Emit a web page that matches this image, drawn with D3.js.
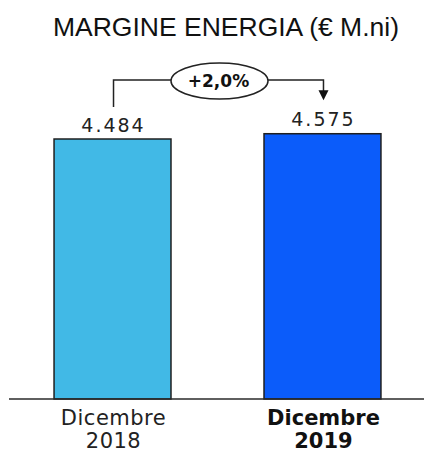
<!DOCTYPE html>
<html>
<head>
<meta charset="utf-8">
<script src="https://cdn.jsdelivr.net/npm/d3@7/dist/d3.min.js"></script>
<style>
  html, body { margin: 0; padding: 0; background: #fff; }
  svg { display: block; }
</style>
</head>
<body>
<script>
// Energy margin, € millions
const title = "MARGINE ENERGIA (€ M.ni)";
const categories = ["Dicembre 2018", "Dicembre 2019"];
const labelLines = [["Dicembre", "2018"], ["Dicembre", "2019"]];
const values = [4484, 4575];
const valueLabels = ["4.484", "4.575"];
const changeLabel = "+2,0%";
const barColors = ["#41b9e6", "#0b5cfa"];

const W = 424, H = 453;
const baseY = 399;

const svg = d3.select("body").append("svg")
  .attr("width", W).attr("height", H);

const x = d3.scaleBand()
  .domain(categories)
  .range([11, 424])
  .paddingInner(0.443)
  .paddingOuter(0.205);

const y = d3.scaleLinear()
  .domain([0, 5000])
  .range([baseY, baseY - 5000 * 260 / 4484]);

// title
svg.append("text")
  .attr("x", 226).attr("y", 36)
  .attr("text-anchor", "middle")
  .attr("font-family", "Liberation Sans, Arial, sans-serif")
  .attr("font-size", 26.5)
  .attr("fill", "#111")
  .text(title);

// bars
svg.selectAll("rect.bar")
  .data(values)
  .join("rect")
  .attr("class", "bar")
  .attr("x", (d, i) => x(categories[i]))
  .attr("y", d => y(d))
  .attr("width", x.bandwidth())
  .attr("height", d => y(0) - y(d))
  .attr("fill", (d, i) => barColors[i])
  .attr("stroke", "#1f1f1f")
  .attr("stroke-width", 1.5);

// value labels
svg.selectAll("text.val")
  .data(values)
  .join("text")
  .attr("class", "val")
  .attr("x", (d, i) => x(categories[i]) + x.bandwidth() / 2 + 1)
  .attr("y", d => y(d) - 7.5)
  .attr("text-anchor", "middle")
  .attr("font-family", "DejaVu Sans, Verdana, sans-serif")
  .attr("font-size", 19)
  .attr("letter-spacing", 2)
  .attr("fill", "#222")
  .text((d, i) => valueLabels[i]);

// baseline axis
svg.append("line")
  .attr("x1", 9).attr("x2", W)
  .attr("y1", y(0)).attr("y2", y(0))
  .attr("stroke", "#2a2a2a")
  .attr("stroke-width", 1.5);

// category labels
categories.forEach((c, i) => {
  const t = svg.append("text")
    .attr("x", x(c) + x.bandwidth() / 2 + 1)
    .attr("y", 425)
    .attr("text-anchor", "middle")
    .attr("font-family", "DejaVu Sans, Verdana, sans-serif")
    .attr("font-size", 21)
    .attr("letter-spacing", i === 1 ? 0 : 0.5)
    .attr("font-weight", i === 1 ? "bold" : "normal")
    .attr("fill", i === 1 ? "#111" : "#222");
  labelLines[i].forEach((line, k) => {
    t.append("tspan")
      .attr("x", x(c) + x.bandwidth() / 2 + 1)
      .attr("dy", k === 0 ? 0 : 23)
      .text(line);
  });
});

// change annotation bracket
const cx0 = x(categories[0]) + x.bandwidth() / 2 + 1;
const cx1 = x(categories[1]) + x.bandwidth() / 2 + 1;
const bracketY = 80;
const ell = { cx: (cx0 + cx1) / 2 + 1, rx: 48.5, ry: 18 };

svg.append("path")
  .attr("d", `M${cx0},${y(values[0]) - 32} V${bracketY} H${ell.cx - ell.rx}`)
  .attr("fill", "none").attr("stroke", "#222").attr("stroke-width", 1.5);

svg.append("path")
  .attr("d", `M${ell.cx + ell.rx},${bracketY} H${cx1} V${y(values[1]) - 42}`)
  .attr("fill", "none").attr("stroke", "#222").attr("stroke-width", 1.5);

// arrow head
const tipY = y(values[1]) - 33.5;
svg.append("path")
  .attr("d", `M${cx1 - 5},${tipY - 10} L${cx1 + 5},${tipY - 10} L${cx1},${tipY} Z`)
  .attr("fill", "#111");

svg.append("ellipse")
  .attr("cx", ell.cx).attr("cy", bracketY + 1)
  .attr("rx", ell.rx).attr("ry", ell.ry)
  .attr("fill", "#fff")
  .attr("stroke", "#222").attr("stroke-width", 1.5);

svg.append("text")
  .attr("x", ell.cx - 1).attr("y", bracketY + 7)
  .attr("text-anchor", "middle")
  .attr("font-family", "DejaVu Sans, Verdana, sans-serif")
  .attr("font-weight", "bold")
  .attr("font-size", 17)
  .attr("fill", "#111")
  .text(changeLabel);
</script>
</body>
</html>
